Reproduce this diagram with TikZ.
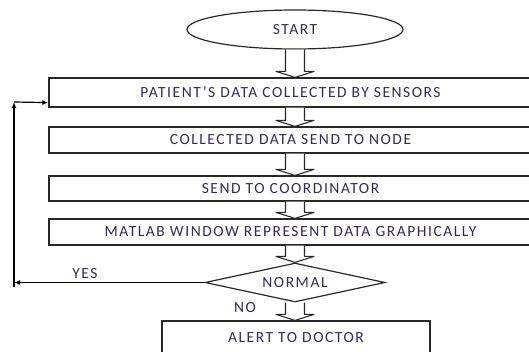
\documentclass[tikz,border=0pt]{standalone}
\usepackage{fontspec}
\setmainfont{Carlito}
\newfontfamily\lblfont[LetterSpace=10]{Carlito}
\usetikzlibrary{shapes.geometric,calc,arrows.meta}
\definecolor{txt}{RGB}{55,40,85}
\definecolor{ln}{RGB}{40,40,40}
\tikzset{
  lbltext/.style={font=\lblfont\fontsize{15.5}{15.5}\selectfont,text=txt},
  box/.style={draw=ln,line width=1.2pt,rectangle,inner sep=0pt,lbltext},
  startshape/.style={draw=ln,line width=1.2pt,ellipse,inner sep=0pt,minimum width=216pt,minimum height=39pt,lbltext},
  decision/.style={draw=ln,line width=1.2pt,diamond,shape aspect=4.6,inner sep=0pt,minimum width=180pt,minimum height=39pt,lbltext},
  barr/.style={draw=ln,line width=1.1pt,fill=white,line join=round},
  conn/.style={draw=black,line width=1.2pt,-{Latex[length=6pt,width=5pt]}},
  lbl/.style={lbltext,inner sep=0pt}
}
\newcommand\blockarr[2]{%
  \path[barr] let \p1=(start.south), \p2=(#1.south), \p3=(#2.north) in
    (\x1-9.5pt,\y2) -- (\x1-9.5pt,\y3+6pt) -- (\x1-19pt,\y3+6pt) -- (\x1,\y3)
    -- (\x1+19pt,\y3+6pt) -- (\x1+9.5pt,\y3+6pt) -- (\x1+9.5pt,\y2);}
\begin{document}
\begin{tikzpicture}[x=1pt,y=-1pt]
\useasboundingbox (0,0) rectangle (529,351);
\clip (0,0) rectangle (529,351);
\node[startshape] (start) at (295,29.5) {START};
\node[box,minimum width=483pt,minimum height=29pt] (b1) at (290.5,92.5) {PATIENT’S DATA COLLECTED BY SENSORS};
\node[box,minimum width=483pt,minimum height=26pt] (b2) at (290.5,140) {COLLECTED DATA SEND TO NODE};
\node[box,minimum width=483pt,minimum height=25pt] (b3) at (290.5,188.5) {SEND TO COORDINATOR};
\node[box,minimum width=483pt,minimum height=26pt] (b4) at (290.5,232) {MATLAB WINDOW REPRESENT DATA GRAPHICALLY};
\node[decision] (d) at (295,282.5) {NORMAL};
\node[box,minimum width=268pt,minimum height=34pt] (alert) at (296,338) {\raisebox{2pt}{ALERT TO DOCTOR}};
\blockarr{start}{b1}
\blockarr{b1}{b2}
\blockarr{b2}{b3}
\blockarr{b3}{b4}
\blockarr{b4}{d}
\blockarr{d}{alert}
\coordinate (ltop) at (14,102);
\coordinate (lbot) at (14,287);
\draw[conn] (d.west) -- (d.west -| ltop);
\draw[conn] (lbot) -- (ltop);
\draw[conn] (ltop) -- ($(b1.south west)+(0,5pt)$);
\node[lbl] (yes) at (85,274) {YES};
\node[lbl] (no) at (245,308) {NO};
\end{tikzpicture}
\end{document}
